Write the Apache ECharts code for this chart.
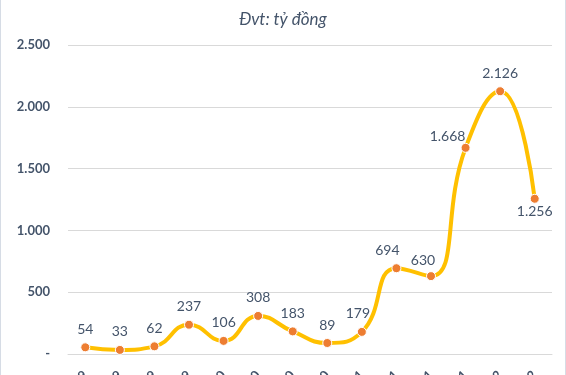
<!DOCTYPE html>
<html>
<head>
<meta charset="utf-8">
<script src="https://cdn.jsdelivr.net/npm/echarts@6/dist/echarts.min.js"></script>
<style>
html,body{margin:0;padding:0;background:#fff;}
#c{width:566px;height:375px;}
</style>
</head>
<body>
<div id="c"></div>
<script>
const subtitle = 'Đvt: tỷ đồng';
const categories = ['Q1/2019','Q2/2019','Q3/2019','Q4/2019','Q1/2020','Q2/2020','Q3/2020','Q4/2020','Q1/2021','Q2/2021','Q3/2021','Q4/2021','Q1/2022','Q2/2022'];
const values = [54, 33, 62, 237, 106, 308, 183, 89, 179, 694, 630, 1668, 2126, 1256];
const labelOffsets = {8: [-4, 0], 9: [-9, 0], 10: [-8, 2], 11: [-18, 7]};
const labelBelow = {13: true};

function fmt(v){
  if (v === 0) return '-';
  return String(v).replace(/\B(?=(\d{3})+(?!\d))/g, '.');
}

const textColor = '#44546A';
const chart = echarts.init(document.getElementById('c'), null, {renderer: 'canvas'});
const data = values.map((v, i) => {
  const d = {value: v};
  if (labelBelow[i]) {
    d.label = {position: 'bottom', distance: 1};
  } else if (labelOffsets[i]) {
    d.label = {offset: labelOffsets[i]};
  }
  return d;
});
chart.setOption({
  animation: false,
  backgroundColor: '#fff',
  title: {
    text: subtitle,
    left: 'center',
    top: 6,
    textStyle: {fontFamily: 'Lato', fontStyle: 'italic', fontWeight: 'normal', fontSize: 17, color: textColor}
  },
  graphic: [
    {type: 'line', shape: {x1: 0.5, y1: 0, x2: 0.5, y2: 375}, style: {stroke: '#d6dce5', lineWidth: 1}},
    {type: 'line', shape: {x1: 565.5, y1: 0, x2: 565.5, y2: 375}, style: {stroke: '#d6dce5', lineWidth: 1}}
  ],
  grid: {left: 68, right: 14, top: 45, bottom: 21, containLabel: false, outerBoundsMode: 'none'},
  xAxis: {
    type: 'category',
    data: categories,
    boundaryGap: true,
    axisLine: {lineStyle: {color: '#d9d9d9', width: 1}},
    axisTick: {show: false},
    axisLabel: {rotate: 45, margin: 19, color: textColor, fontFamily: 'Lato', fontWeight: 'bold', fontSize: 13, interval: 0}
  },
  yAxis: {
    type: 'value',
    min: 0, max: 2500, interval: 500,
    axisLine: {show: false},
    axisTick: {show: false},
    splitLine: {lineStyle: {color: '#d9d9d9', width: 1}},
    axisLabel: {margin: 18, color: textColor, fontFamily: 'Lato', fontWeight: 'bold', fontSize: 13, formatter: fmt}
  },
  series: [{
    type: 'line',
    data: data,
    smooth: 0.5,
    lineStyle: {color: '#FFC000', width: 4},
    symbol: 'circle',
    symbolSize: 9,
    itemStyle: {color: '#ED7D31', borderColor: '#fff', borderWidth: 1},
    label: {
      show: true, position: 'top', distance: 6,
      color: textColor, fontFamily: 'Lato', fontSize: 14,
      formatter: p => fmt(p.value)
    }
  }]
});
</script>
</body>
</html>
